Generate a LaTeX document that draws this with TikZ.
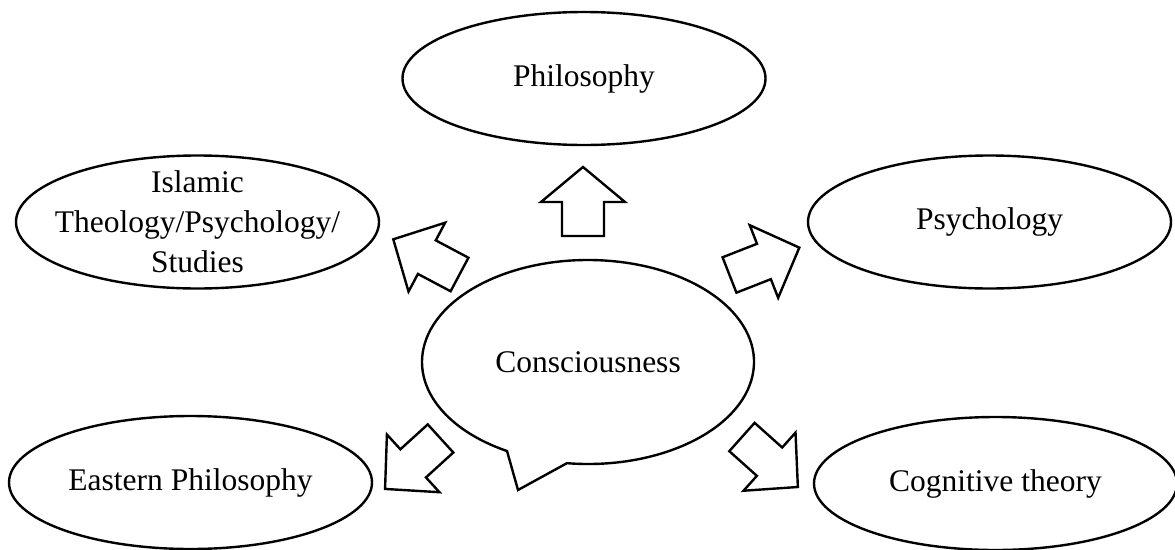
\documentclass[tikz,border=0pt]{standalone}
\usepackage{fontspec}
\setmainfont{Liberation Serif}
\usetikzlibrary{shapes.geometric}
\tikzset{
  txt/.style={font=\fontsize{31.5}{40}\selectfont},
  topic/.style={ellipse, draw, line width=2.4pt, minimum width=363pt,
    minimum height=133pt, inner sep=0pt, txt},
  outline/.style={draw, line width=2.4pt, line join=miter},
  pics/blockarrow/.style args={#1/#2/#3/#4}{code={
    \draw[outline] ({-#1/2},{-#2/2}) -- ({#1/2-#4},{-#2/2}) -- ({#1/2-#4},{-#3/2})
      -- ({#1/2},0) -- ({#1/2-#4},{#3/2}) -- ({#1/2-#4},{#2/2}) -- ({-#1/2},{#2/2}) -- cycle;
  }}
}
\begin{document}
\begin{tikzpicture}[x=1pt,y=1pt]
\useasboundingbox (0,0) rectangle (1175,-549);
\node[topic] (phil) at (584,-78.5) {Philosophy};
\node[topic, label={[align=center, txt]center:{Islamic\\Theology/Psychology/\\Studies}}] (islam) at (197.5,-222) {};
\node[topic] (psy) at (989.5,-222) {Psychology};
\node[topic] (east) at (190.5,-482.5) {Eastern Philosophy};
\node[topic] (cog) at (995.5,-483.5) {Cognitive theory};
\node[ellipse, minimum width=332pt, minimum height=204pt, inner sep=0pt, txt] (con) at (588,-362) {Consciousness};
\coordinate (tail) at (518,-490);
\draw[outline] (con.center) ++(262.7:166 and 102)
  arc[start angle=262.7, end angle=600.8, x radius=166, y radius=102] -- (tail) -- cycle;
\pic (aup) [rotate=90] at (583,-201.5) {blockarrow=69/42/84/35};
\pic (aul) [rotate=152] at (426.4,-256.9) {blockarrow=75/38/78/38};
\pic (aur) [rotate=21.4] at (764.4,-261.3) {blockarrow=75/38/78/38};
\pic (adl) [rotate=222.3] at (412.8,-463.7) {blockarrow=75/38/78/38};
\pic (adr) [rotate=-41.8] at (769.9,-462) {blockarrow=75/38/78/38};
\end{tikzpicture}
\end{document}
